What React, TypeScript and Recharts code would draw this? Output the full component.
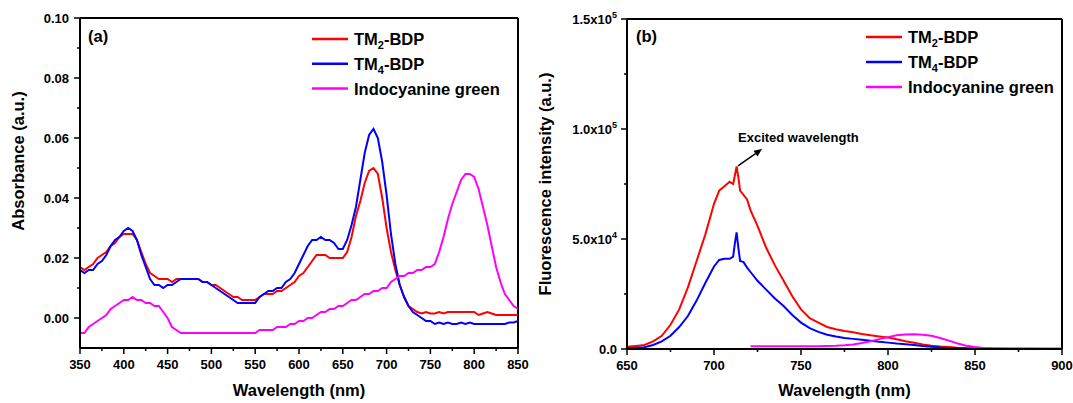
import React from 'react';
import { LineChart, Line, XAxis, YAxis, ReferenceLine, ReferenceDot, Legend } from 'recharts';

const FONT = '"Liberation Sans", Arial, Helvetica, sans-serif';

// ---------- Panel (a): absorbance ----------
const absWavelength = [
  350, 355, 360, 365, 370, 375, 380, 385, 390, 395,
  400, 405, 410, 415, 420, 425, 430, 435, 440, 445,
  450, 455, 460, 465, 470, 475, 480, 485, 490, 495,
  500, 505, 510, 515, 520, 525, 530, 535, 540, 545,
  550, 555, 560, 565, 570, 575, 580, 585, 590, 595,
  600, 605, 610, 615, 620, 625, 630, 635, 640, 645,
  650, 655, 660, 665, 670, 675, 680, 685, 690, 695,
  700, 705, 710, 715, 720, 725, 730, 735, 740, 745,
  750, 755, 760, 765, 770, 775, 780, 785, 790, 795,
  800, 805, 810, 815, 820, 825, 830, 835, 840, 845,
  850,
];
const absTM2 = [
  0.017, 0.016, 0.017, 0.018, 0.020, 0.021, 0.022, 0.024, 0.025, 0.027,
  0.028, 0.028, 0.028, 0.026, 0.022, 0.018, 0.015, 0.014, 0.013, 0.013,
  0.013, 0.012, 0.013, 0.013, 0.013, 0.013, 0.013, 0.013, 0.012, 0.012,
  0.011, 0.011, 0.010, 0.009, 0.008, 0.007, 0.007, 0.006, 0.006, 0.006,
  0.006, 0.007, 0.008, 0.008, 0.008, 0.009, 0.009, 0.010, 0.011, 0.012,
  0.014, 0.015, 0.017, 0.019, 0.021, 0.021, 0.021, 0.020, 0.020, 0.020,
  0.020, 0.022, 0.027, 0.034, 0.039, 0.045, 0.049, 0.050, 0.048, 0.040,
  0.030, 0.022, 0.016, 0.011, 0.007, 0.004, 0.003, 0.002, 0.0015, 0.002,
  0.0015, 0.0015, 0.002, 0.0015, 0.002, 0.002, 0.002, 0.002, 0.002, 0.002,
  0.002, 0.001, 0.0015, 0.002, 0.0015, 0.001, 0.001, 0.001, 0.001, 0.001,
  0.001,
];
const absTM4 = [
  0.016, 0.015, 0.016, 0.016, 0.018, 0.019, 0.021, 0.024, 0.026, 0.027,
  0.029, 0.030, 0.029, 0.026, 0.021, 0.017, 0.013, 0.011, 0.011, 0.010,
  0.011, 0.011, 0.012, 0.013, 0.013, 0.013, 0.013, 0.013, 0.012, 0.012,
  0.011, 0.010, 0.009, 0.008, 0.007, 0.006, 0.005, 0.005, 0.005, 0.005,
  0.005, 0.007, 0.008, 0.009, 0.009, 0.010, 0.010, 0.012, 0.013, 0.015,
  0.018, 0.021, 0.024, 0.026, 0.026, 0.027, 0.026, 0.026, 0.025, 0.023,
  0.023, 0.026, 0.031, 0.037, 0.046, 0.055, 0.061, 0.063, 0.060, 0.052,
  0.041, 0.028, 0.018, 0.011, 0.007, 0.004, 0.002, 0.001, 0.000, -0.001,
  -0.001, -0.002, -0.0015, -0.002, -0.0015, -0.002, -0.002, -0.0015, -0.002, -0.0015,
  -0.002, -0.002, -0.002, -0.002, -0.002, -0.002, -0.002, -0.002, -0.0015, -0.0015,
  -0.001,
];
const absICG = [
  -0.005, -0.005, -0.003, -0.002, -0.001, 0.000, 0.001, 0.003, 0.004, 0.005,
  0.006, 0.006, 0.007, 0.006, 0.006, 0.005, 0.005, 0.004, 0.004, 0.002,
  0.000, -0.003, -0.004, -0.005, -0.005, -0.005, -0.005, -0.005, -0.005, -0.005,
  -0.005, -0.005, -0.005, -0.005, -0.005, -0.005, -0.005, -0.005, -0.005, -0.005,
  -0.005, -0.004, -0.004, -0.004, -0.004, -0.003, -0.003, -0.003, -0.002, -0.002,
  -0.001, -0.001, 0.000, 0.000, 0.001, 0.002, 0.002, 0.003, 0.003, 0.004,
  0.004, 0.005, 0.006, 0.006, 0.007, 0.008, 0.008, 0.009, 0.009, 0.010,
  0.010, 0.012, 0.013, 0.014, 0.014, 0.015, 0.015, 0.016, 0.016, 0.017,
  0.017, 0.018, 0.022, 0.027, 0.033, 0.038, 0.042, 0.046, 0.048, 0.048,
  0.047, 0.043, 0.037, 0.031, 0.024, 0.017, 0.012, 0.008, 0.006, 0.004,
  0.003,
];
const absXTicks = [350, 375, 400, 425, 450, 475, 500, 525, 550, 575, 600, 625, 650, 675, 700, 725, 750, 775, 800, 825, 850];
const absYTicks = [0, 0.01, 0.02, 0.03, 0.04, 0.05, 0.06, 0.07, 0.08, 0.09, 0.1];

// ---------- Panel (b): fluorescence ----------
const flWavelength = [
  650, 655, 660, 665, 670, 675, 680, 685, 690, 695, 700,
  703, 706, 709, 711, 712, 713, 714, 715, 717, 719, 721,
  725, 730, 735, 740, 745, 750, 755, 760, 765, 770, 775, 780, 785, 790, 795,
  800, 805, 810, 815, 820, 825, 830, 835, 840, 845, 850, 855, 860,
  870, 880, 890, 900,
];
const flTM2 = [
  1000, 1400, 1800, 3500, 6000, 11000, 18000, 28000, 40000, 52000, 66000,
  72000, 74000, 76000, 75000, 79000, 83000, 78000, 72000, 70000, 68000, 63000,
  56000, 46000, 38000, 31000, 24000, 18000, 14000, 12000, 10000, 9000, 8200, 7600, 6800, 6200, 5700,
  5200, 4400, 3500, 2800, 2100, 1500, 1100, 900, 600, 400, 300, 200, 150,
  100, 80, 50, 50,
];
const flTM4 = [
  500, 600, 800, 1800, 3500, 6000, 10000, 15000, 22000, 30000, 37500,
  40500, 41000, 41000, 42000, 48000, 53000, 46000, 40000, 39500, 37000, 35000,
  31000, 27000, 23000, 19500, 15500, 12000, 9500, 7800, 6500, 5700, 5000, 4600, 4200, 3800, 3300,
  2900, 2500, 2200, 1800, 1400, 1000, 700, 500, 350, 250, 150, 100, 80,
  50, 50, 50, 50,
];
const flICG = [
  null, null, null, null, null, null, null, null, null, null, null,
  null, null, null, null, null, null, null, null, null, null, 1300,
  1300, 1200, 1300, 1200, 1200, 1200, 1300, 1300, 1400, 1500, 1700, 2000, 2700, 3500, 4500,
  5400, 6200, 6600, 6700, 6500, 6000, 5000, 3800, 2500, 1500, 900, 500, 300,
  200, 200, 200, 200,
];
const flXTicks = [650, 675, 700, 725, 750, 775, 800, 825, 850, 875, 900];
const flYTicks = [0, 25000, 50000, 75000, 100000, 125000, 150000];

const seriesColors = ['#FF0000', '#0000FF', '#FF00FF'];
const legendLabels = [
  { main: 'TM', sub: '2', rest: '-BDP' },
  { main: 'TM', sub: '4', rest: '-BDP' },
  { main: 'Indocyanine green', sub: '', rest: '' },
];
const annotationText = 'Excited wavelength';
const arrowStart = { x: 713.8, y: 83200 };
const arrowEnd = { x: 727.6, y: 90900 };
const annotationPos = { x: 713.8, y: 94000 };

const absData = absWavelength.map((w, i) => ({ w, tm2: absTM2[i], tm4: absTM4[i], icg: absICG[i] }));
const flData = flWavelength.map((w, i) => ({ w, tm2: flTM2[i], tm4: flTM4[i], icg: flICG[i] }));

const tickText = { fontFamily: FONT, fontWeight: 700, fontSize: 13, fill: '#000' } as const;
const titleText = { fontFamily: FONT, fontWeight: 700, fontSize: 16.5, fill: '#000' } as const;

const XTick = (p: any) => {
  const v = p.payload.value;
  const major = v % 50 === 0;
  return (
    <g>
      <line x1={p.x} x2={p.x} y1={p.y} y2={p.y + (major ? 6 : 3)} stroke="#000" strokeWidth={1.5} />
      {major && (
        <text x={p.x} y={p.y + 21} textAnchor="middle" {...tickText}>
          {v}
        </text>
      )}
    </g>
  );
};

const AbsYTick = (p: any) => {
  const v = p.payload.value;
  const major = Math.round(v * 100) % 2 === 0;
  return (
    <g>
      <line x1={p.x - (major ? 6 : 3)} x2={p.x} y1={p.y} y2={p.y} stroke="#000" strokeWidth={1.5} />
      {major && (
        <text x={p.x - 11} y={p.y + 5} textAnchor="end" {...tickText}>
          {v.toFixed(2)}
        </text>
      )}
    </g>
  );
};

const FlYTick = (p: any) => {
  const v = p.payload.value;
  const major = v % 50000 === 0;
  let label: any = null;
  if (major) {
    if (v === 0) {
      label = '0.0';
    } else {
      const exp = Math.floor(Math.log10(v));
      const mant = (v / Math.pow(10, exp)).toFixed(1);
      label = (
        <>
          {mant + 'x10'}
          <tspan fontSize={9} dy={-6}>{exp}</tspan>
        </>
      );
    }
  }
  return (
    <g>
      <line x1={p.x - (major ? 6 : 3)} x2={p.x} y1={p.y} y2={p.y} stroke="#000" strokeWidth={1.5} />
      {major && (
        <text x={p.x - 10} y={p.y + 5} textAnchor="end" {...tickText}>
          {label}
        </text>
      )}
    </g>
  );
};

const LegendBox = ({ gap }: { gap: number }) => (
  <svg width={230} height={80} style={{ display: 'block', overflow: 'visible' }}>
    {legendLabels.map((l, i) => {
      const cy = 13 + i * gap;
      return (
        <g key={i}>
          <line x1={12} x2={48} y1={cy} y2={cy} stroke={seriesColors[i]} strokeWidth={2.5} />
          <text x={54} y={cy + 6} {...titleText}>
            {l.main}
            {l.sub && (
              <tspan fontSize={11} dy={4}>
                {l.sub}
              </tspan>
            )}
            {l.rest && (
              <tspan fontSize={16.5} dy={-4}>
                {l.rest}
              </tspan>
            )}
          </text>
        </g>
      );
    })}
  </svg>
);

const Arrow = (p: any) => {
  const { x1, y1, x2, y2 } = p;
  const ang = Math.atan2(y2 - y1, x2 - x1);
  const L = 8;
  const W = 3.5;
  const bx = x2 - L * Math.cos(ang);
  const by = y2 - L * Math.sin(ang);
  const px = -Math.sin(ang) * W;
  const py = Math.cos(ang) * W;
  return (
    <g>
      <line x1={x1} y1={y1} x2={bx} y2={by} stroke="#000" strokeWidth={1.5} />
      <polygon points={`${x2},${y2} ${bx + px},${by + py} ${bx - px},${by - py}`} fill="#000" />
    </g>
  );
};

const AnnotationText = (p: any) => (
  <text x={p.cx} y={p.cy} {...tickText} fontSize={13}>
    {annotationText}
  </text>
);

export default function App() {
  return (
    <div style={{ position: 'absolute', left: 0, top: 0, width: 1073, height: 403, background: '#fff' }}>
      <div style={{ position: 'absolute', left: 0, top: 0 }}>
        <LineChart width={530} height={403} data={absData} margin={{ top: 18, right: 12, bottom: 0, left: 0 }}>
          <XAxis
            dataKey="w"
            type="number"
            domain={[350, 850]}
            ticks={absXTicks}
            interval={0}
            allowDataOverflow
            height={55}
            tickSize={0}
            tickMargin={0}
            tickLine={false}
            tick={XTick}
            axisLine={{ stroke: '#000', strokeWidth: 2 }}
            label={(p: any) => {
              const vb = p.viewBox || { x: 80, y: 348, width: 438, height: 55 };
              return (
                <text x={vb.x + vb.width / 2} y={vb.y + 48} textAnchor="middle" {...titleText}>
                  Wavelength (nm)
                </text>
              );
            }}
          />
          <YAxis
            type="number"
            domain={[-0.01, 0.1]}
            ticks={absYTicks}
            interval={0}
            allowDataOverflow
            width={80}
            tickSize={0}
            tickMargin={0}
            tickLine={false}
            tick={AbsYTick}
            axisLine={{ stroke: '#000', strokeWidth: 2 }}
            label={(p: any) => {
              const vb = p.viewBox || { x: 0, y: 18, width: 80, height: 330 };
              const cy = vb.y + vb.height / 2 - 22;
              return (
                <text x={vb.x + 24} y={cy} transform={`rotate(-90 ${vb.x + 24} ${cy})`} textAnchor="middle" {...titleText}>
                  Absorbance (a.u.)
                </text>
              );
            }}
          />
          <ReferenceLine y={0.1} stroke="#000" strokeWidth={2} />
          <ReferenceLine x={850} stroke="#000" strokeWidth={2} />
          <Line dataKey="tm2" name="TM2-BDP" stroke={seriesColors[0]} strokeWidth={2} dot={false} type="linear" isAnimationActive={false} />
          <Line dataKey="tm4" name="TM4-BDP" stroke={seriesColors[1]} strokeWidth={2} dot={false} type="linear" isAnimationActive={false} />
          <Line dataKey="icg" name="Indocyanine green" stroke={seriesColors[2]} strokeWidth={2} dot={false} type="linear" isAnimationActive={false} />
          <Legend
            layout="horizontal"
            verticalAlign="middle"
            align="center"
            wrapperStyle={{ left: 300, top: 26, width: 230, height: 80 }}
            content={() => <LegendBox gap={24.75} />}
          />
          <text x={88} y={42} {...titleText}>(a)</text>
        </LineChart>
      </div>
      <div style={{ position: 'absolute', left: 530, top: 0 }}>
        <LineChart width={543} height={403} data={flData} margin={{ top: 19, right: 11, bottom: 0, left: 0 }}>
          <XAxis
            dataKey="w"
            type="number"
            domain={[650, 900]}
            ticks={flXTicks}
            interval={0}
            allowDataOverflow
            height={54}
            tickSize={0}
            tickMargin={0}
            tickLine={false}
            tick={XTick}
            axisLine={{ stroke: '#000', strokeWidth: 2 }}
            label={(p: any) => {
              const vb = p.viewBox || { x: 97, y: 349, width: 435, height: 54 };
              return (
                <text x={vb.x + vb.width / 2} y={vb.y + 47} textAnchor="middle" {...titleText}>
                  Wavelength (nm)
                </text>
              );
            }}
          />
          <YAxis
            type="number"
            domain={[0, 150000]}
            ticks={flYTicks}
            interval={0}
            allowDataOverflow
            width={97}
            tickSize={0}
            tickMargin={0}
            tickLine={false}
            tick={FlYTick}
            axisLine={{ stroke: '#000', strokeWidth: 2 }}
            label={(p: any) => {
              const vb = p.viewBox || { x: 0, y: 19, width: 97, height: 330 };
              const cy = vb.y + vb.height / 2;
              return (
                <text x={vb.x + 21} y={cy} transform={`rotate(-90 ${vb.x + 21} ${cy})`} textAnchor="middle" {...titleText}>
                  Fluorescence intensity (a.u.)
                </text>
              );
            }}
          />
          <ReferenceLine y={150000} stroke="#000" strokeWidth={2} />
          <ReferenceLine x={900} stroke="#000" strokeWidth={2} />
          <Line dataKey="tm2" name="TM2-BDP" stroke={seriesColors[0]} strokeWidth={2} dot={false} type="linear" isAnimationActive={false} />
          <Line dataKey="tm4" name="TM4-BDP" stroke={seriesColors[1]} strokeWidth={2} dot={false} type="linear" isAnimationActive={false} />
          <Line dataKey="icg" name="Indocyanine green" stroke={seriesColors[2]} strokeWidth={2} dot={false} type="linear" connectNulls={false} isAnimationActive={false} />
          <ReferenceLine segment={[arrowStart, arrowEnd]} shape={Arrow} />
          <ReferenceDot x={annotationPos.x} y={annotationPos.y} r={1} fill="none" stroke="none" shape={AnnotationText} />
          <Legend
            layout="horizontal"
            verticalAlign="middle"
            align="center"
            wrapperStyle={{ left: 324, top: 24, width: 230, height: 80 }}
            content={() => <LegendBox gap={25} />}
          />
          <text x={106} y={42} {...titleText}>(b)</text>
        </LineChart>
      </div>
    </div>
  );
}
